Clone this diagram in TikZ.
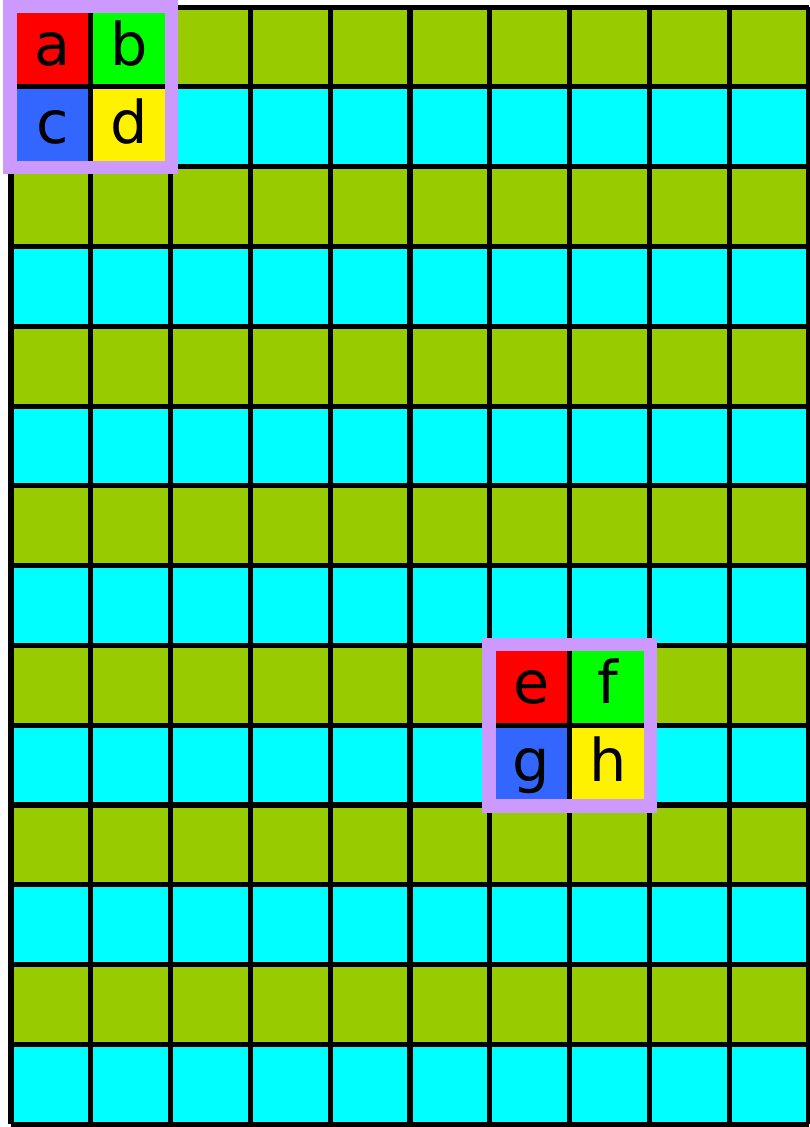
\documentclass[tikz,border=0pt]{standalone}
\usepackage{fontspec}
\newfontfamily\lblfont{DejaVu Sans}
\definecolor{olive}{RGB}{153,204,0}
\definecolor{aqua}{RGB}{0,255,255}
\definecolor{lavender}{RGB}{204,153,255}
\definecolor{tileblue}{RGB}{51,102,255}
\tikzset{
	gridline/.style={line width=1.8pt, black},
	frame/.style={draw=lavender, line width=4.8pt},
	letter/.style={anchor=base, inner sep=0pt, font=\lblfont\fontsize{21}{24}\selectfont}
}
\begin{document}
\begin{tikzpicture}[x=1cm, y=-1cm]
			\def\cols{10}
			\def\rows{14}
			\def\h{0.927}
			\useasboundingbox (-0.138,-0.088) rectangle (10.012,14.035);
			% striped board
			\foreach \j in {0,...,13} {
				\pgfmathsetmacro{\shade}{ifthenelse(mod(\j,2)==0,"olive","aqua")}
				\fill[\shade] (0,\j) rectangle (\cols,\j+1);
			}
			\foreach \i in {0,...,\cols} {
				\draw[gridline] (\i,0) -- (\i,\rows);
			}
			\foreach \j in {0,...,\rows} {
				\draw[gridline] (0,\j) -- (\cols,\j);
			}
			% the two 2x2 tiles
			\foreach \cx/\cy/\la/\lb/\lc/\ld in {1/1/a/b/c/d, 7/9/e/f/g/h} {
				\coordinate (c-\la) at (\cx,\cy);
				\fill[red] (\cx-\h,\cy-\h) rectangle (c-\la);
				\fill[green] (\cx+\h,\cy-\h) rectangle (c-\la);
				\fill[tileblue] (\cx-\h,\cy+\h) rectangle (c-\la);
				\fill[yellow] (\cx+\h,\cy+\h) rectangle (c-\la);
				\draw[gridline] (\cx-\h,\cy) -- (\cx+\h,\cy);
				\draw[gridline] (\cx,\cy-\h) -- (\cx,\cy+\h);
				\draw[frame] (\cx-1.012,\cy-1.012) rectangle (\cx+1.012,\cy+1.012);
				\node[letter] (lbl-\la) at (\cx-0.48,\cy-0.27) {\la};
				\node[letter] (lbl-\lb) at (\cx+0.48,\cy-0.27) {\lb};
				\node[letter] (lbl-\lc) at (\cx-0.48,\cy+0.71) {\lc};
				\node[letter] (lbl-\ld) at (\cx+0.48,\cy+0.71) {\ld};
			}
\end{tikzpicture}
\end{document}
